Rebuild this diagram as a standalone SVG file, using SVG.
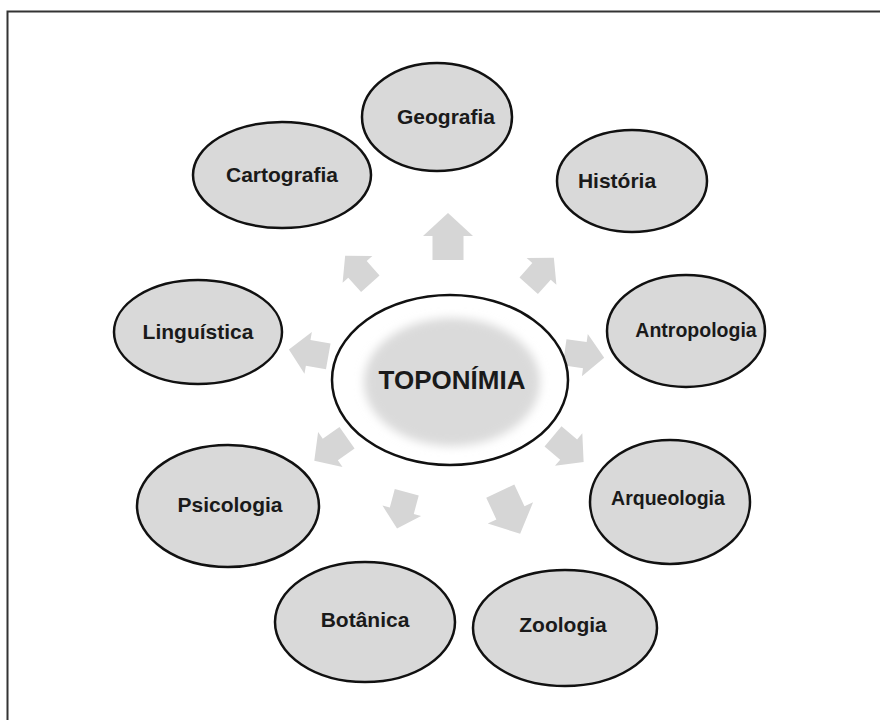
<svg xmlns="http://www.w3.org/2000/svg" width="880" height="720" viewBox="0 0 880 720">
<defs>
<style>
.node{fill:#d9d9d9;stroke:#111;stroke-width:2.5}
.lbl{font-family:"Liberation Sans",Arial,sans-serif;font-weight:bold;font-size:21px;fill:#1a1a1a;text-anchor:middle}
.sm{font-size:19.5px}
.arr{fill:#d6d6d6}
</style>
<filter id="blur" x="-30%" y="-30%" width="160%" height="160%"><feGaussianBlur stdDeviation="5"/></filter>
<path id="arrow" d="M0,-24 L25,-1 L15.5,-1 L15.5,23 L-15.5,23 L-15.5,-1 L-25,-1 Z"/>
</defs>
<rect width="880" height="720" fill="#fff"/>
<path d="M7.5,720 V11.5 H880" fill="none" stroke="#333" stroke-width="2"/>
<g id="connectors">
<use href="#arrow" class="arr" transform="translate(448,237)"/>
<use href="#arrow" class="arr" transform="translate(358,270) rotate(-42) scale(0.8)"/>
<use href="#arrow" class="arr" transform="translate(541,272) rotate(42) scale(0.8)"/>
<use href="#arrow" class="arr" transform="translate(309,353) rotate(-80) scale(0.85)"/>
<use href="#arrow" class="arr" transform="translate(584,355) rotate(98) scale(0.85)"/>
<use href="#arrow" class="arr" transform="translate(331,449) rotate(-125) scale(0.85)"/>
<use href="#arrow" class="arr" transform="translate(568,449) rotate(130) scale(0.85)"/>
<use href="#arrow" class="arr" transform="translate(402,510) rotate(195) scale(0.8)"/>
<use href="#arrow" class="arr" transform="translate(510,512) rotate(155) scale(1.0)"/>
</g>
<g id="center">
<ellipse cx="450" cy="380" rx="118" ry="85" fill="#fff" stroke="#111" stroke-width="2.5"/>
<ellipse cx="452" cy="382" rx="88" ry="64" fill="#dadada" filter="url(#blur)"/>
<text x="452" y="389" class="lbl" style="font-size:26px">TOPONÍMIA</text>
</g>
<g id="geografia"><ellipse class="node" cx="437" cy="117" rx="75" ry="54"/><text class="lbl" x="446" y="124">Geografia</text></g>
<g id="cartografia"><ellipse class="node" cx="282" cy="175" rx="89" ry="53"/><text class="lbl" x="282" y="182">Cartografia</text></g>
<g id="historia"><ellipse class="node" cx="632" cy="181" rx="75" ry="51"/><text class="lbl" x="617" y="188">História</text></g>
<g id="linguistica"><ellipse class="node" cx="198" cy="332" rx="84" ry="52"/><text class="lbl" x="198" y="339">Linguística</text></g>
<g id="antropologia"><ellipse class="node" cx="686" cy="331" rx="79" ry="56"/><text class="lbl sm" x="696" y="337">Antropologia</text></g>
<g id="psicologia"><ellipse class="node" cx="228" cy="506" rx="91" ry="61"/><text class="lbl" x="230" y="512">Psicologia</text></g>
<g id="arqueologia"><ellipse class="node" cx="670" cy="502" rx="80" ry="62"/><text class="lbl sm" x="668" y="505">Arqueologia</text></g>
<g id="botanica"><ellipse class="node" cx="365" cy="622" rx="90" ry="60"/><text class="lbl" x="365" y="627">Botânica</text></g>
<g id="zoologia"><ellipse class="node" cx="565" cy="628" rx="92" ry="58"/><text class="lbl" x="563" y="632">Zoologia</text></g>
</svg>
